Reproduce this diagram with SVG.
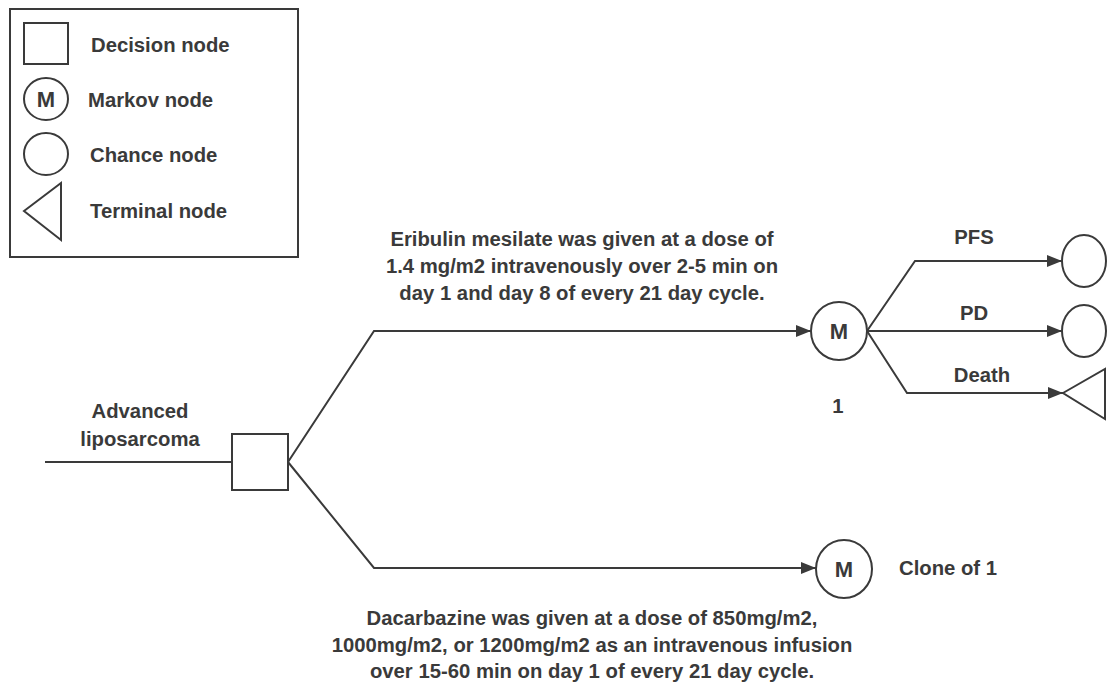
<svg xmlns="http://www.w3.org/2000/svg" width="1117" height="686" viewBox="0 0 1117 686">
<style>
.s{fill:#fff;stroke:#3a3a3a;stroke-width:2}
.c{fill:none;stroke:#3a3a3a;stroke-width:2}
text{font-family:"Liberation Sans",Arial,sans-serif;font-weight:bold;font-size:20.3px;fill:#3a3a3a}
.m{text-anchor:middle}
.big{font-size:22px}
</style>
<defs>
<marker id="ah" markerUnits="userSpaceOnUse" markerWidth="16" markerHeight="14" refX="15" refY="6" orient="auto">
<path d="M0,0 L15,6 L0,12 Z" fill="#3a3a3a"/>
</marker>
</defs>
<rect width="1117" height="686" fill="#fff"/>
<g id="legend">
<rect class="s" x="10" y="9" width="288" height="248"/>
<rect class="s" x="24" y="23" width="44" height="41"/>
<text x="91" y="52">Decision node</text>
<ellipse class="s" cx="46" cy="99" rx="22" ry="21"/>
<text class="m big" x="46" y="107">M</text>
<text x="88" y="107">Markov node</text>
<ellipse class="s" cx="46" cy="154" rx="22" ry="21"/>
<text x="90" y="162">Chance node</text>
<polygon class="s" points="24,211 61,183 61,240"/>
<text x="90" y="218">Terminal node</text>
</g>
<g id="connectors">
<line class="c" x1="45" y1="462" x2="232" y2="462"/>
<polyline class="c" points="288,462 374,331 811,331" marker-end="url(#ah)"/>
<polyline class="c" points="288,462 374,568 816,568" marker-end="url(#ah)"/>
<polyline class="c" points="867,331 915,261 1062,261" marker-end="url(#ah)"/>
<line class="c" x1="867" y1="331" x2="1062" y2="331" marker-end="url(#ah)"/>
<polyline class="c" points="867,331 907,393 1063,393" marker-end="url(#ah)"/>
</g>
<g id="root-label">
<text class="m" x="140" y="418">Advanced</text>
<text class="m" x="140" y="446">liposarcoma</text>
</g>
<g id="decision">
<rect class="s" x="232" y="434" width="56" height="56"/>
</g>
<g id="eribulin-label">
<text class="m" x="582" y="246">Eribulin mesilate was given at a dose of</text>
<text class="m" x="582" y="273">1.4 mg/m2 intravenously over 2-5 min on</text>
<text class="m" x="582" y="300">day 1 and day 8 of every 21 day cycle.</text>
</g>
<g id="markov1">
<ellipse class="s" cx="839" cy="331" rx="28" ry="29"/>
<text class="m big" x="839" y="339">M</text>
<text class="m" x="838" y="413">1</text>
</g>
<g id="pfs">
<text class="m" x="974" y="244">PFS</text>
<ellipse class="s" cx="1084" cy="261" rx="22" ry="26"/>
</g>
<g id="pd">
<text class="m" x="974" y="320">PD</text>
<ellipse class="s" cx="1084" cy="331" rx="22" ry="26"/>
</g>
<g id="death">
<text class="m" x="982" y="382">Death</text>
<polygon class="s" points="1063,393 1105,369 1105,419"/>
</g>
<g id="markov-clone">
<ellipse class="s" cx="844" cy="569" rx="28" ry="29"/>
<text class="m big" x="844" y="577">M</text>
<text x="899" y="575">Clone of 1</text>
</g>
<g id="dacarbazine-label">
<text class="m" x="592" y="625">Dacarbazine was given at a dose of 850mg/m2,</text>
<text class="m" x="592" y="652">1000mg/m2, or 1200mg/m2 as an intravenous infusion</text>
<text class="m" x="592" y="678">over 15-60 min on day 1 of every 21 day cycle.</text>
</g>
</svg>
